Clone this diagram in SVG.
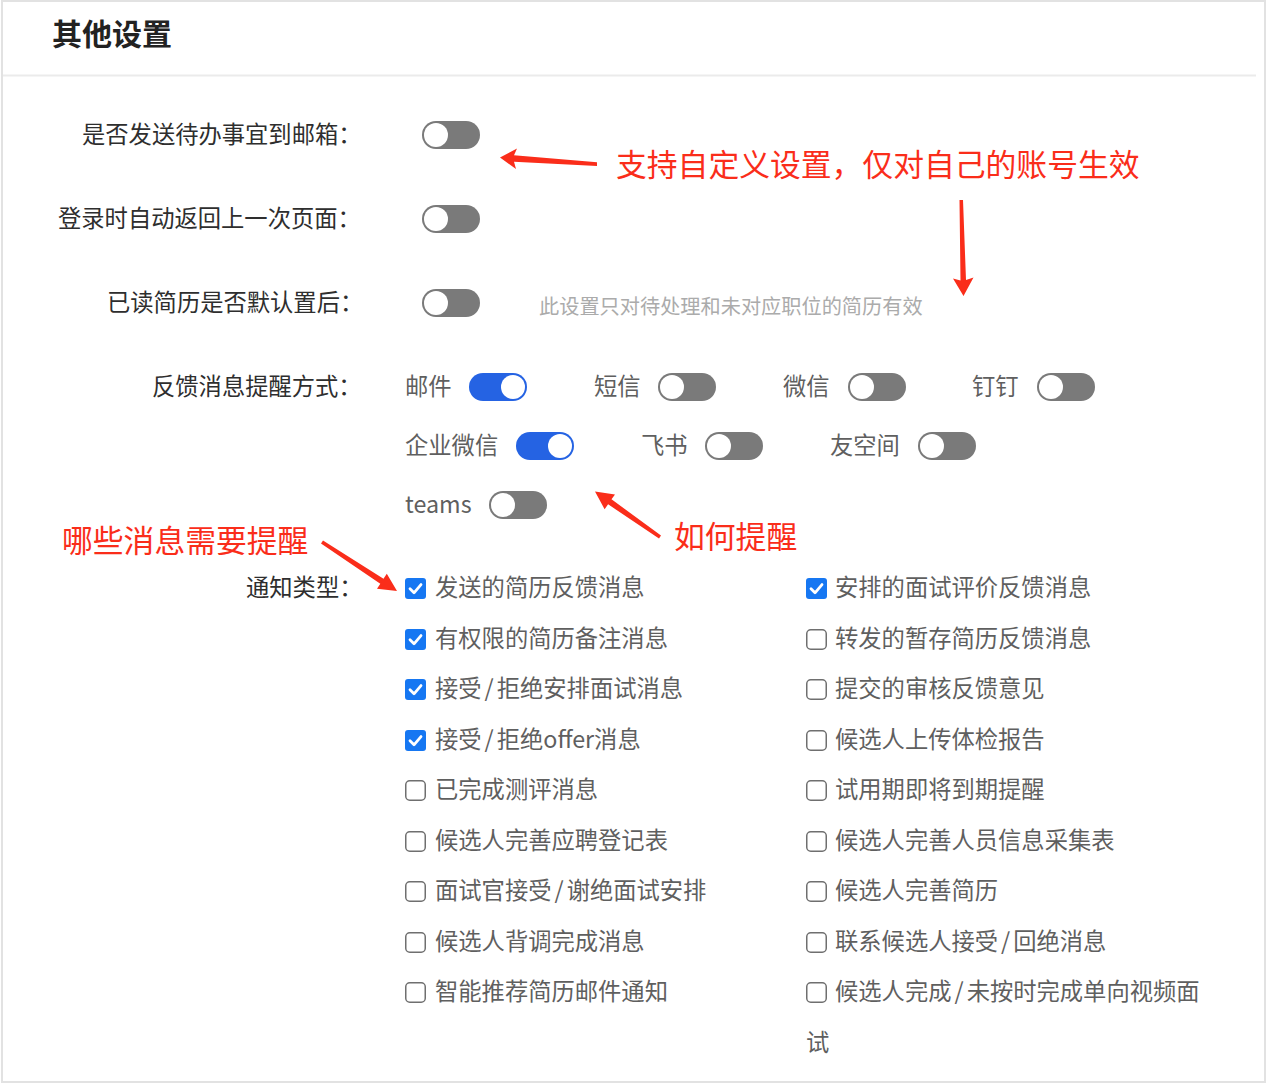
<svg xmlns="http://www.w3.org/2000/svg" xmlns:xlink="http://www.w3.org/1999/xlink" width="1268" height="1084" viewBox="0 0 1268 1084">
<style>
text{font-family:"Noto Sans CJK SC","Noto Sans",sans-serif;dominant-baseline:central}
.title{font-size:30px;font-weight:bold;fill:#222}
.lbl{font-size:23.3px;fill:#2e2e2e}
.opt{font-size:23.3px;fill:#5f5f5f}
.hint{font-size:20.2px;fill:#ababab}
.note{font-size:30.8px;fill:#fa2d1a}
.arrow{fill:#fa2d1a}
</style>
<defs>
<g id="tOff"><rect x="0" y="0" width="58" height="28" rx="14" fill="#7a7a7a"/><circle cx="14" cy="14" r="12" fill="#fff"/></g>
<g id="tOn"><rect x="0" y="0" width="58" height="28" rx="14" fill="#2563e3"/><circle cx="44" cy="14" r="12" fill="#fff"/></g>
<g id="cOn"><rect x="0" y="0" width="21" height="21" rx="3" fill="#1677f2"/><path d="M5 10.8 L9 14.8 L16 6.6" fill="none" stroke="#fff" stroke-width="2.8" stroke-linecap="round" stroke-linejoin="round"/></g>
<g id="cOff"><rect x="0.75" y="0.75" width="19.5" height="19.5" rx="4" fill="#fff" stroke="#6f6f6f" stroke-width="1.5"/></g>
</defs>
<rect x="0" y="0" width="1268" height="1084" fill="#fff"/>
<rect x="2" y="1" width="1263" height="1081" fill="none" stroke="#e2e2e2" stroke-width="2"/>
<line x1="3" y1="75.5" x2="1256" y2="75.5" stroke="#ebebeb" stroke-width="2"/>

<g id="title"><text class="title" x="52" y="32">其他设置</text></g>

<g id="row-email-todo">
<text class="lbl" x="82" y="133">是否发送待办事宜到邮箱：</text>
<use href="#tOff" x="422" y="121"/>
</g>
<g id="row-auto-return">
<text class="lbl" x="58" y="217">登录时自动返回上一次页面：</text>
<use href="#tOff" x="422" y="205"/>
</g>
<g id="row-read-resume">
<text class="lbl" x="107" y="301">已读简历是否默认置后：</text>
<use href="#tOff" x="422" y="289"/>
<text class="hint" x="539" y="305">此设置只对待处理和未对应职位的简历有效</text>
</g>

<g id="row-feedback">
<text class="lbl" x="152" y="385">反馈消息提醒方式：</text>
<g id="opt-mail"><text class="opt" x="405" y="385">邮件</text><use href="#tOn" x="469" y="373"/></g>
<g id="opt-sms"><text class="opt" x="594" y="385">短信</text><use href="#tOff" x="658" y="373"/></g>
<g id="opt-wechat"><text class="opt" x="783" y="385">微信</text><use href="#tOff" x="848" y="373"/></g>
<g id="opt-dingtalk"><text class="opt" x="972" y="385">钉钉</text><use href="#tOff" x="1037" y="373"/></g>
<g id="opt-wecom"><text class="opt" x="405" y="444">企业微信</text><use href="#tOn" x="516" y="432"/></g>
<g id="opt-feishu"><text class="opt" x="641" y="444">飞书</text><use href="#tOff" x="705" y="432"/></g>
<g id="opt-yonyou"><text class="opt" x="830" y="444">友空间</text><use href="#tOff" x="918" y="432"/></g>
<g id="opt-teams"><text class="opt" x="405" y="503">teams</text><use href="#tOff" x="489" y="491"/></g>
</g>

<g id="row-notify-type">
<text class="lbl" x="246" y="586">通知类型：</text>
<g id="left-col">
<use href="#cOn" x="405" y="578"/><text class="opt" x="435" y="586">发送的简历反馈消息</text>
<use href="#cOn" x="405" y="629"/><text class="opt" x="435" y="637">有权限的简历备注消息</text>
<use href="#cOn" x="405" y="679"/><text class="opt" x="435" y="687">接受<tspan dx="3">/</tspan><tspan dx="3">拒绝安排面试消息</tspan></text>
<use href="#cOn" x="405" y="730"/><text class="opt" x="435" y="738">接受<tspan dx="3">/</tspan><tspan dx="3">拒绝offer消息</tspan></text>
<use href="#cOff" x="405" y="780"/><text class="opt" x="435" y="788">已完成测评消息</text>
<use href="#cOff" x="405" y="831"/><text class="opt" x="435" y="839">候选人完善应聘登记表</text>
<use href="#cOff" x="405" y="881"/><text class="opt" x="435" y="889">面试官接受<tspan dx="3">/</tspan><tspan dx="3">谢绝面试安排</tspan></text>
<use href="#cOff" x="405" y="932"/><text class="opt" x="435" y="940">候选人背调完成消息</text>
<use href="#cOff" x="405" y="982"/><text class="opt" x="435" y="990">智能推荐简历邮件通知</text>
</g>
<g id="right-col">
<use href="#cOn" x="806" y="578"/><text class="opt" x="835" y="586">安排的面试评价反馈消息</text>
<use href="#cOff" x="806" y="629"/><text class="opt" x="835" y="637">转发的暂存简历反馈消息</text>
<use href="#cOff" x="806" y="679"/><text class="opt" x="835" y="687">提交的审核反馈意见</text>
<use href="#cOff" x="806" y="730"/><text class="opt" x="835" y="738">候选人上传体检报告</text>
<use href="#cOff" x="806" y="780"/><text class="opt" x="835" y="788">试用期即将到期提醒</text>
<use href="#cOff" x="806" y="831"/><text class="opt" x="835" y="839">候选人完善人员信息采集表</text>
<use href="#cOff" x="806" y="881"/><text class="opt" x="835" y="889">候选人完善简历</text>
<use href="#cOff" x="806" y="932"/><text class="opt" x="835" y="940">联系候选人接受<tspan dx="3">/</tspan><tspan dx="3">回绝消息</tspan></text>
<use href="#cOff" x="806" y="982"/><text class="opt" x="835" y="990">候选人完成<tspan dx="3">/</tspan><tspan dx="3">未按时完成单向视频面</tspan></text>
<text class="opt" x="806" y="1041">试</text>
</g>
</g>

<g id="note-custom"><text class="note" x="616" y="162">支持自定义设置，仅对自己的账号生效</text></g>
<g id="note-how"><text class="note" x="674" y="534">如何提醒</text></g>
<g id="note-which"><text class="note" x="62" y="538">哪些消息需要提醒</text></g>

<g id="connectors">
<polygon class="arrow" points="500,157.5 517,148.5 514,155.2 597,162.3 597,166 514,161.8 516,169"/>
<polygon class="arrow" points="959.5,200 963,200 966,280 973.5,277.5 963.5,296 953,278.5 960.5,280.5"/>
<polygon class="arrow" points="595,491.5 615,494.4 611.5,499.3 661,535.5 659,538.5 608.1,504.3 604.6,509.2"/>
<polygon class="arrow" points="397,591 377,588.7 380.3,583.7 321,543.5 323,540.5 383.5,578.7 386.8,573.7"/>
</g>
</svg>
